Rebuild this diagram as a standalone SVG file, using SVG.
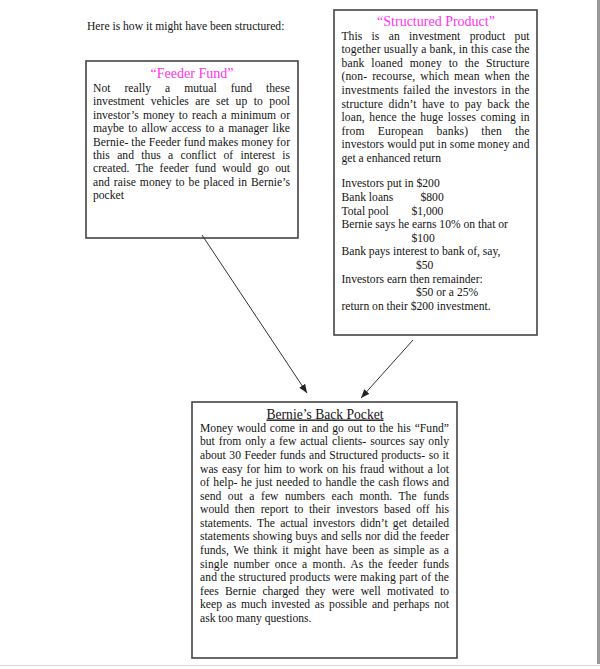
<svg xmlns="http://www.w3.org/2000/svg" width="600" height="669" viewBox="0 0 600 669">
<defs>
<style>
.t{font-family:"Liberation Serif","Times New Roman",serif;font-size:11.6px;fill:#141414}
.ttl{font-family:"Liberation Serif","Times New Roman",serif;font-size:14px;fill:#ff33ee;text-anchor:middle}
.box{fill:#fff;stroke:#444;stroke-width:1.6}
.conn{stroke:#333;stroke-width:1;fill:none}
</style>
<marker id="ah" viewBox="0 0 10 8" refX="10" refY="4" markerWidth="9" markerHeight="7" markerUnits="userSpaceOnUse" orient="auto">
<path d="M0,0 L10,4 L0,8 z" fill="#222"/>
</marker>
</defs>
<rect x="0" y="0" width="600" height="669" fill="#fff"/>
<rect x="597" y="0" width="3" height="664" fill="#9a9a9a"/>
<line x1="0" y1="665.5" x2="600" y2="665.5" stroke="#d8d8d0" stroke-width="1"/>

<text class="t" x="87" y="30">Here is how it might have been structured:</text>

<g id="feeder">
<rect class="box" x="86" y="61" width="212" height="177"/>
<text class="ttl" x="192" y="78">“Feeder Fund”</text>
<text class="t" x="93" y="92" word-spacing="11" textLength="197" lengthAdjust="spacing">Not really a mutual fund these</text>
<text class="t" x="93" y="105.4" word-spacing="3.6" textLength="197" lengthAdjust="spacing">investment vehicles are set up to pool</text>
<text class="t" x="93" y="118.8" word-spacing="1.3" textLength="197" lengthAdjust="spacing">investor’s money to reach a minimum or</text>
<text class="t" x="93" y="132.2" word-spacing="1.3" textLength="197" lengthAdjust="spacing">maybe to allow access to a manager like</text>
<text class="t" x="93" y="145.6" textLength="197" lengthAdjust="spacing">Bernie- the Feeder fund makes money for</text>
<text class="t" x="93" y="159" word-spacing="4.4" textLength="197" lengthAdjust="spacing">this and thus a conflict of interest is</text>
<text class="t" x="93" y="172.4" word-spacing="3.2" textLength="197" lengthAdjust="spacing">created. The feeder fund would go out</text>
<text class="t" x="93" y="185.8" word-spacing="1" textLength="197" lengthAdjust="spacing">and raise money to be placed in Bernie’s</text>
<text class="t" x="93" y="199.2">pocket</text>
</g>

<g id="structured">
<rect class="box" x="334" y="10" width="203" height="325"/>
<text class="ttl" x="436" y="26">“Structured Product”</text>
<text class="t" x="341.5" y="39.5" word-spacing="6.4" textLength="188" lengthAdjust="spacing">This is an investment product put</text>
<text class="t" x="341.5" y="53.1" textLength="188" lengthAdjust="spacing">together usually a bank, in this case the</text>
<text class="t" x="341.5" y="66.7" word-spacing="3.8" textLength="188" lengthAdjust="spacing">bank loaned money to the Structure</text>
<text class="t" x="341.5" y="80.3" word-spacing="2" textLength="188" lengthAdjust="spacing">(non- recourse, which mean when the</text>
<text class="t" x="341.5" y="93.9" word-spacing="1.3" textLength="188" lengthAdjust="spacing">investments failed the investors in the</text>
<text class="t" x="341.5" y="107.5" word-spacing="2.5" textLength="188" lengthAdjust="spacing">structure didn’t have to pay back the</text>
<text class="t" x="341.5" y="121.1" word-spacing="1.5" textLength="188" lengthAdjust="spacing">loan, hence the huge losses coming in</text>
<text class="t" x="341.5" y="134.7" word-spacing="10" textLength="188" lengthAdjust="spacing">from European banks) then the</text>
<text class="t" x="341.5" y="148.3" textLength="188" lengthAdjust="spacing">investors would put in some money and</text>
<text class="t" x="341.5" y="161.9">get a enhanced return</text>
<text class="t" x="341.5" y="187.3">Investors put in $200</text>
<text class="t" x="341.5" y="200.9">Bank loans</text>
<text class="t" x="420.5" y="200.9">$800</text>
<text class="t" x="341.5" y="214.5">Total pool</text>
<text class="t" x="411.5" y="214.5">$1,000</text>
<text class="t" x="341.5" y="228.1">Bernie says he earns 10% on that or</text>
<text class="t" x="411.5" y="241.7">$100</text>
<text class="t" x="341.5" y="255.3">Bank pays interest to bank of, say,</text>
<text class="t" x="416" y="268.9">$50</text>
<text class="t" x="341.5" y="282.5">Investors earn then remainder:</text>
<text class="t" x="416" y="296.1">$50 or a 25%</text>
<text class="t" x="341.5" y="309.7">return on their $200 investment.</text>
</g>

<g id="bernie">
<rect class="box" x="192" y="402" width="265" height="256"/>
<text x="325" y="418.5" text-anchor="middle" font-family="Liberation Serif, Times New Roman, serif" font-size="13.6" fill="#141414" text-decoration="underline">Bernie’s Back Pocket</text>
<text class="t" x="200" y="431.8" word-spacing="0.8" textLength="249" lengthAdjust="spacing">Money would come in and go out to the his “Fund”</text>
<text class="t" x="200" y="445.4" word-spacing="1" textLength="249" lengthAdjust="spacing">but from only a few actual clients- sources say only</text>
<text class="t" x="200" y="458.9" word-spacing="0.6" textLength="249" lengthAdjust="spacing">about 30 Feeder funds and Structured products- so it</text>
<text class="t" x="200" y="472.5" word-spacing="1" textLength="249" lengthAdjust="spacing">was easy for him to work on his fraud without a lot</text>
<text class="t" x="200" y="486.1" word-spacing="0.5" textLength="249" lengthAdjust="spacing">of help- he just needed to handle the cash flows and</text>
<text class="t" x="200" y="499.6" word-spacing="3.6" textLength="249" lengthAdjust="spacing">send out a few numbers each month. The funds</text>
<text class="t" x="200" y="513.2" word-spacing="2.8" textLength="249" lengthAdjust="spacing">would then report to their investors based off his</text>
<text class="t" x="200" y="526.8" word-spacing="2.2" textLength="249" lengthAdjust="spacing">statements. The actual investors didn’t get detailed</text>
<text class="t" x="200" y="540.3" word-spacing="0.3" textLength="249" lengthAdjust="spacing">statements showing buys and sells nor did the feeder</text>
<text class="t" x="200" y="553.9" word-spacing="1.8" textLength="249" lengthAdjust="spacing">funds, We think it might have been as simple as a</text>
<text class="t" x="200" y="567.5" word-spacing="2.2" textLength="249" lengthAdjust="spacing">single number once a month. As the feeder funds</text>
<text class="t" x="200" y="581" word-spacing="0.4" textLength="249" lengthAdjust="spacing">and the structured products were making part of the</text>
<text class="t" x="200" y="594.6" word-spacing="3.4" textLength="249" lengthAdjust="spacing">fees Bernie charged they were well motivated to</text>
<text class="t" x="200" y="608.2" word-spacing="1.7" textLength="249" lengthAdjust="spacing">keep as much invested as possible and perhaps not</text>
<text class="t" x="200" y="621.7">ask too many questions.</text>
</g>

<g id="connectors">
<line class="conn" x1="202" y1="235" x2="307" y2="393" marker-end="url(#ah)"/>
<line class="conn" x1="413" y1="340" x2="361" y2="398" marker-end="url(#ah)"/>
</g>
</svg>
